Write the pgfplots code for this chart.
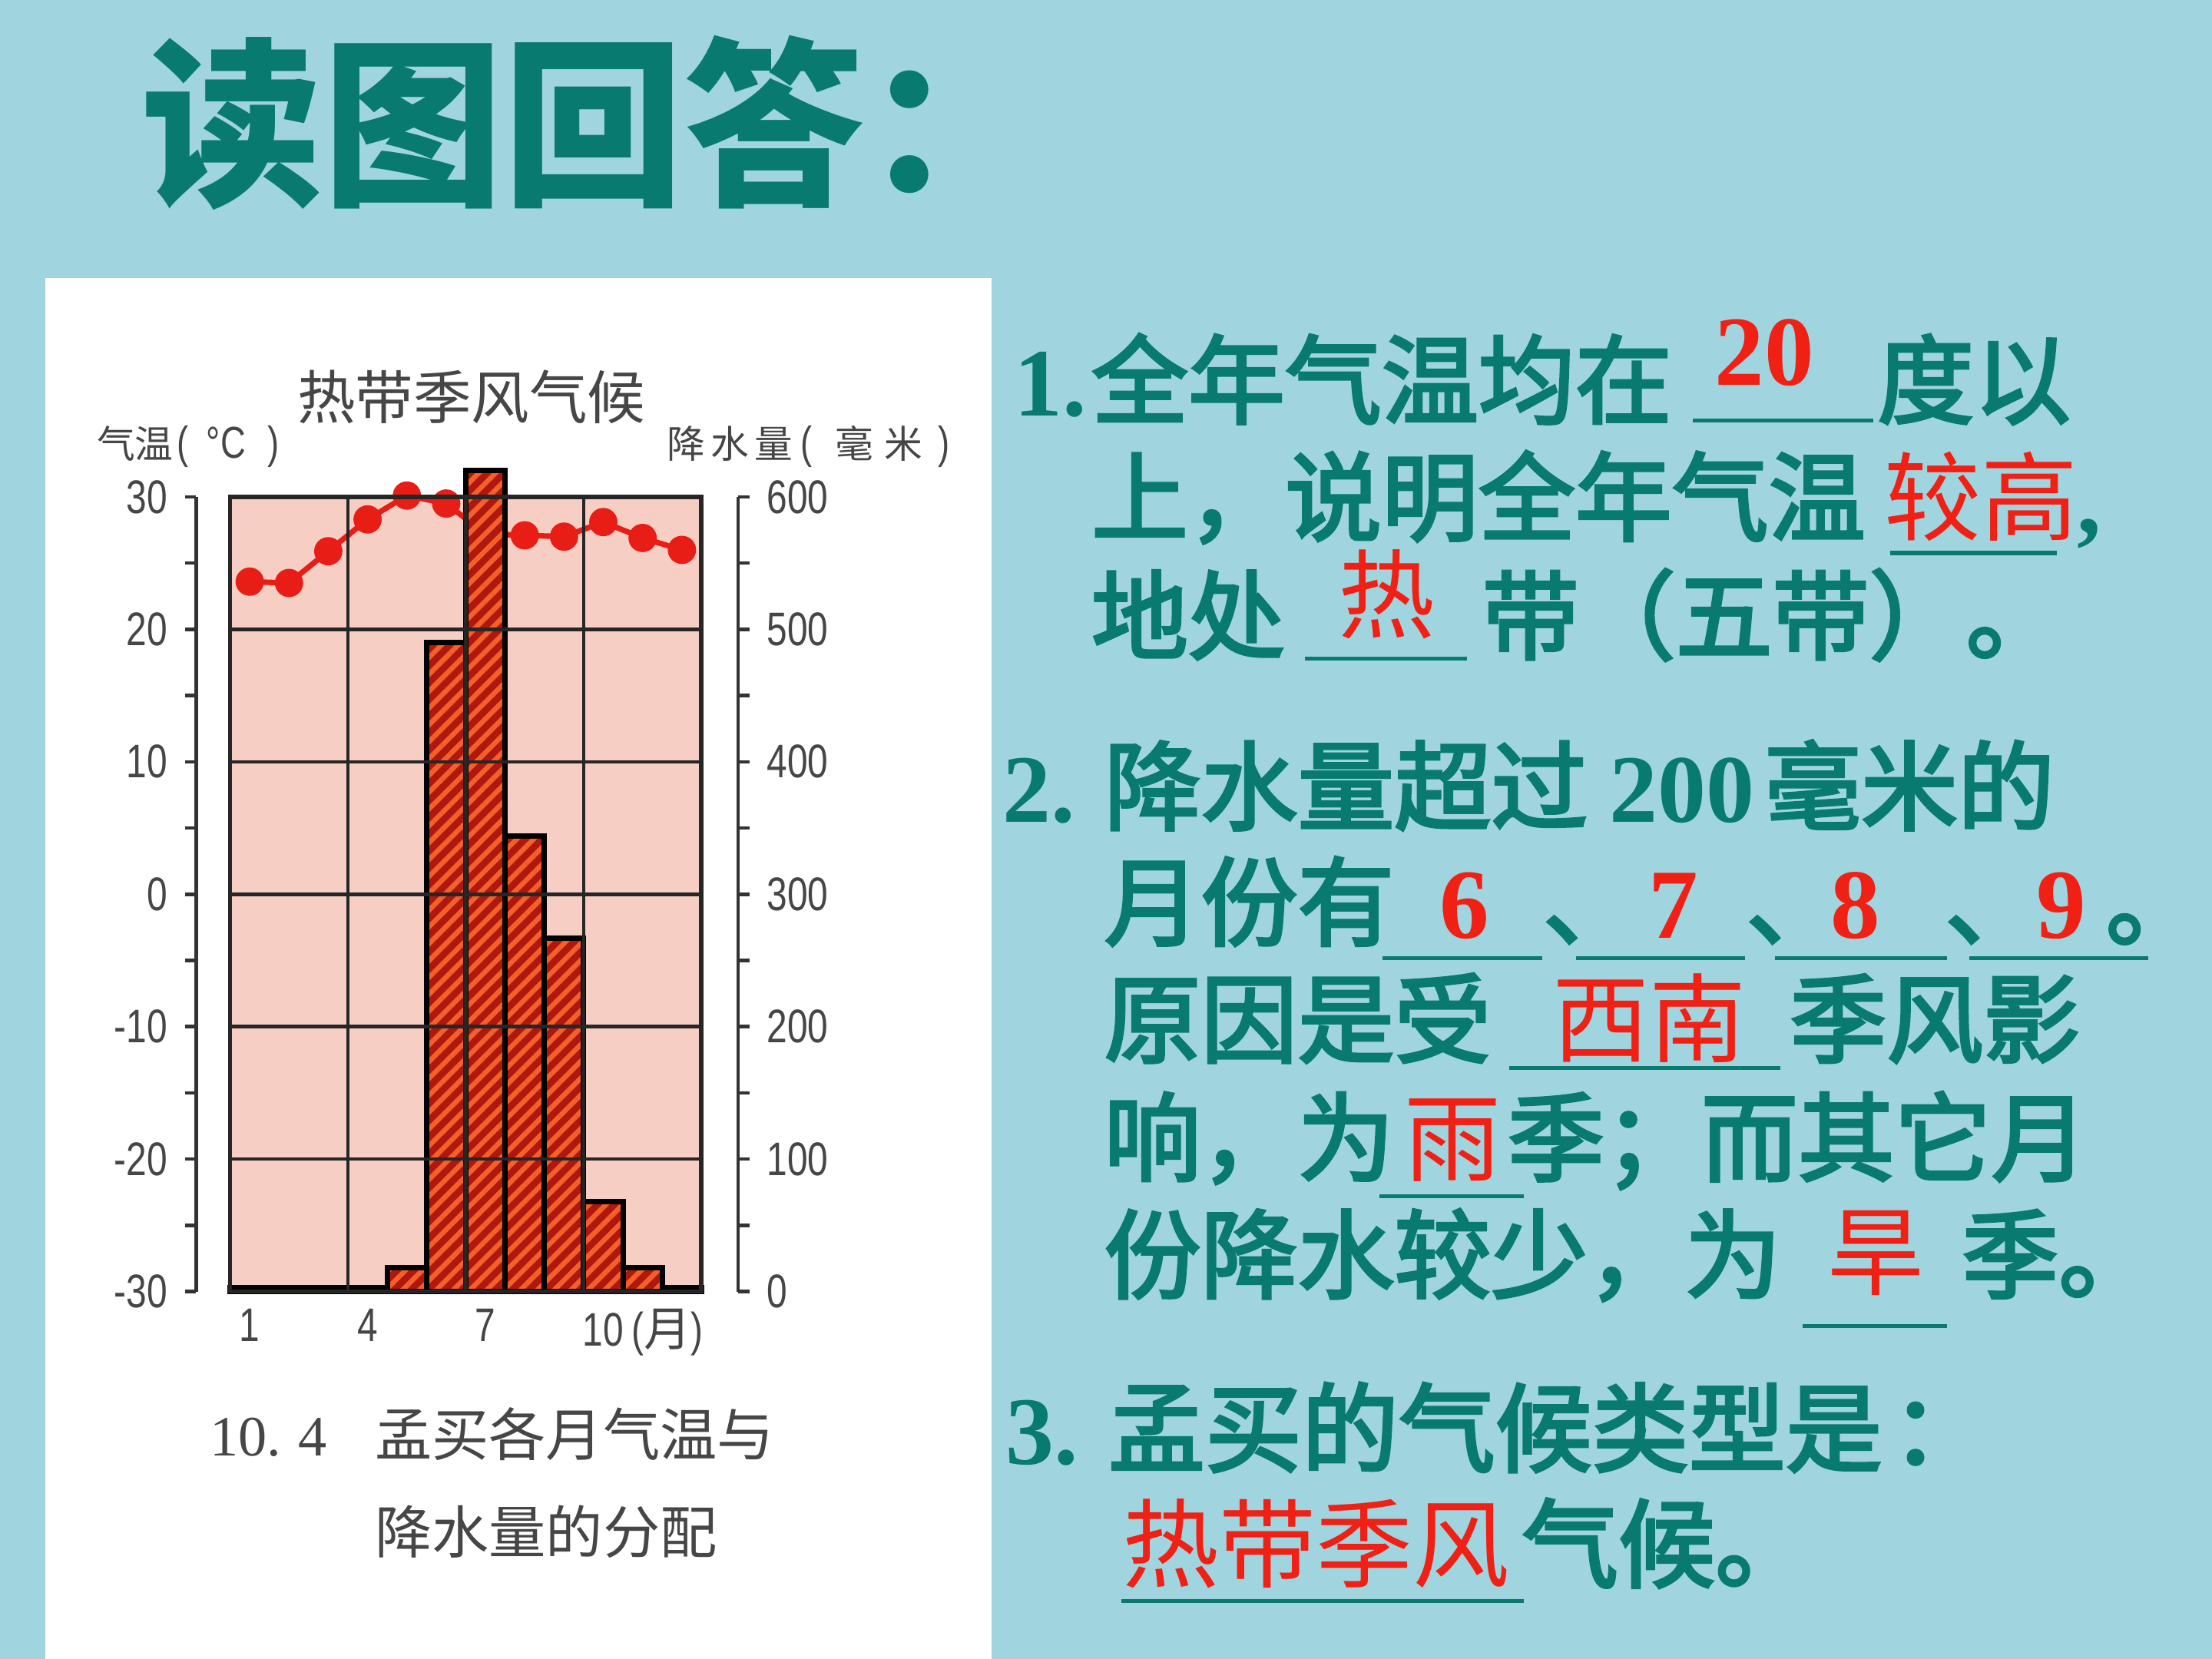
\documentclass[border=0pt]{standalone}
\usepackage{fontspec}
\usepackage{pgfplots}
\pgfplotsset{compat=1.18}
\usetikzlibrary{patterns.meta}
\setmainfont{Liberation Serif}
\newfontfamily\cjk{Noto Sans CJK SC}
\newfontfamily\cjkm[FakeBold=3]{Noto Sans CJK SC}
\newfontfamily\serifb{Liberation Serif}
\newfontfamily\tickf[FakeStretch=0.78]{Liberation Sans}

\definecolor{bgcyan}{RGB}{160,213,224}
\definecolor{teal1}{RGB}{8,122,112}
\definecolor{ansred}{RGB}{240,32,20}
\definecolor{pinkbg}{RGB}{247,206,196}
\definecolor{barred}{RGB}{175,24,14}
\definecolor{barstripe}{RGB}{245,95,40}
\definecolor{tline}{RGB}{232,30,22}
\definecolor{inkgray}{RGB}{70,70,70}

\newcommand{\bodyfs}{\fontsize{19.5pt}{20pt}\selectfont}
\newcommand{\tickfs}{\fontsize{9.5pt}{10pt}\selectfont}

\pgfplotstableread{
m t
1 23.6
2 23.5
3 25.9
4 28.3
5 30.1
6 29.5
7 27.2
8 27.1
9 27.0
10 28.1
11 26.9
12 26.0
}\temps

\pgfplotstableread{
m p
1 3
2 3
3 3
4 3
5 18
6 490
7 620
8 344
9 267
10 68
11 18
12 3
}\precip

\begin{document}
\begin{tikzpicture}
\begin{scope}[x=0.01cm,y=-0.01cm]
\path[use as bounding box] (0,0) rectangle (1568,1176);
\fill[bgcyan] (0,0) rectangle (1568,1176);
\fill[white] (32,197) rectangle (703,1176);

% title
\node[anchor=base west, inner sep=0, text=teal1, font=\fontsize{36.4pt}{37pt}\selectfont\cjk\bfseries] at (100,136) {读图回答：};

% question text
\tikzset{tq/.style={anchor=base west, inner sep=0, text=teal1, font=\bodyfs\cjkm},
         tn/.style={anchor=base west, inner sep=0, text=teal1, font=\bodyfs\serifb\bfseries},
         rq/.style={anchor=base west, inner sep=0, text=ansred, font=\bodyfs\cjk},
         rn/.style={anchor=base west, inner sep=0, text=ansred, font=\fontsize{20pt}{21pt}\selectfont\serifb\bfseries},
         ul/.style={teal1, line width=0.8pt}}
% line 1
\node[tn] at (718,295) {1.};
\node[tq] at (773,295) {全年气温均在};
\node[rn] at (1215,273) {20};
\draw[ul] (1200,298) -- (1328,298);
\node[tq] at (1330,295) {度以};
% line 2
\node[tq] at (773,378) {上，说明全年气温};
\node[rq] at (1335,378) {较高};
\node[tn] at (1472,378) {,};
\draw[ul] (1340,392) -- (1458,392);
% line 3
\node[tq] at (773,462) {地处};
\node[rq] at (948,447) {热};
\draw[ul] (925,467) -- (1040,467);
\node[tq] at (1050,462) {带（五带）。};
% line 4
\node[tn] at (710,583) {2.};
\node[tq] at (782,583) {降水量超过};
\node[tn] at (1140,583) {200};
\node[tq] at (1250,583) {毫米的};
% line 5
\node[tq] at (782,665) {月份有};
\node[rn] at (1020,665) {6};
\node[tq] at (1093,665) {、};
\node[rn] at (1168,665) {7};
\node[tq] at (1237,665) {、};
\node[rn] at (1297,665) {8};
\node[tq] at (1378,665) {、};
\node[rn] at (1443,665) {9};
\node[tq] at (1492,665) {。};
\draw[ul] (980,679) -- (1093,679);
\draw[ul] (1117,679) -- (1237,679);
\draw[ul] (1258,679) -- (1380,679);
\draw[ul] (1396,679) -- (1523,679);
% line 6
\node[tq] at (782,748) {原因是受};
\node[rq] at (1100,748) {西南};
\draw[ul] (1070,757) -- (1262,757);
\node[tq] at (1268,748) {季风影};
% line 7
\node[tq] at (782,832) {响，为};
\node[rq] at (995,832) {雨};
\draw[ul] (978,848) -- (1080,848);
\node[tq] at (1068,832) {季；而其它月};
% line 8
\node[tq] at (782,915) {份降水较少，为};
\node[rq] at (1295,913) {旱};
\draw[ul] (1278,940) -- (1380,940);
\node[tq] at (1390,915) {季。};
% line 9
\node[tn] at (712,1038) {3.};
\node[tq] at (785,1038) {孟买的气候类型是};
\node[tq] at (1340,1038) {：};
% line 10
\node[rq] at (795,1120) {热带季风};
\node[tq] at (1078,1120) {气候。};
\draw[ul] (795,1135) -- (1080,1135);

% chart texts
\node[anchor=base west, inner sep=0, text=inkgray, font=\fontsize{11.7pt}{12pt}\selectfont\cjk] at (210,297) {热带季风气候};
\node[anchor=base west, inner sep=0, text=inkgray, font=\fontsize{7.7pt}{8pt}\selectfont\cjk] at (68,325) {气温\hspace{0.1em}{\tickf\fontsize{9pt}{9pt}\selectfont(\hspace{0.4em}°C\hspace{0.5em})}};
\node[anchor=base west, inner sep=0, text=inkgray, font=\fontsize{7.7pt}{8pt}\selectfont\cjk] at (472,325) {降\hspace{0.15em}水\hspace{0.15em}量\hspace{0.2em}{\tickf\fontsize{9pt}{9pt}\selectfont(}\hspace{0.6em}毫\hspace{0.3em}米\hspace{0.4em}{\tickf\fontsize{9pt}{9pt}\selectfont)}};
\node[anchor=base west, inner sep=0, text=inkgray, font=\fontsize{11.5pt}{12pt}\selectfont\serifb] at (148,1032) {10.\hspace{0.3em}4};
\node[anchor=base west, inner sep=0, text=inkgray, font=\fontsize{11.5pt}{12pt}\selectfont\cjk] at (265,1032) {孟买各月气温与};
\node[anchor=base west, inner sep=0, text=inkgray, font=\fontsize{11.5pt}{12pt}\selectfont\cjk] at (265,1101) {降水量的分配};
\end{scope}

% temperature axis (background + line)
\begin{axis}[
  at={(1.63cm,-9.15cm)}, anchor=south west, scale only axis,
  width=3.34cm, height=5.63cm,
  xmin=0.5, xmax=12.5, ymin=-30, ymax=30,
  axis background/.style={fill=pinkbg},
  axis line style={draw=none},
  xtick={1,4,7,10}, xticklabels={1,4,7,10\rlap{\,({\cjk 月})}},
  ytick=\empty,
  major tick length=0pt,
  xticklabel style={font=\tickf\tickfs, text=inkgray},
  clip=false,
]
\addplot[tline, line width=1.1pt, mark=*, mark size=2.3pt, mark options={fill=tline, draw=tline}] table[x=m, y=t] {\temps};
\end{axis}

% precipitation axis (bars + grid on top)
\begin{axis}[
  at={(1.63cm,-9.15cm)}, anchor=south west, scale only axis,
  width=3.34cm, height=5.63cm,
  xmin=0.5, xmax=12.5, ymin=0, ymax=600,
  axis on top, clip=false,
  xtick={3.5,6.5,9.5}, ytick={100,200,300,400,500},
  xticklabels={}, yticklabels={},
  grid=major, major grid style={black!85, line width=0.7pt},
  major tick length=0pt,
  axis line style={black!85, line width=0.9pt},
]
\addplot[ybar, bar width=1, draw=black, line width=1.1pt,
  preaction={fill=barred},
  pattern={Lines[angle=45,distance=2.4pt,line width=1pt]}, pattern color=barstripe]
  table[x=m, y=p] {\precip};
\end{axis}

% left temperature scale
\begin{axis}[
  at={(1.39cm,-9.15cm)}, anchor=south west, scale only axis,
  width=0.5cm, height=5.63cm,
  xmin=0, xmax=1, ymin=-30, ymax=30,
  axis y line*=left, axis x line=none,
  ytick={-30,-20,-10,0,10,20,30},
  yticklabels={-30,-20,-10,0,10,20,30},
  minor ytick={-25,-15,-5,5,15,25},
  tick align=outside, major tick length=0.08cm, minor tick length=0.08cm,
  y axis line style={black!80, line width=0.7pt},
  every tick/.style={black!80, line width=0.7pt},
  yticklabel style={font=\tickf\tickfs, text=inkgray},
]
\addplot[draw=none] coordinates {(0,0)};
\end{axis}

% right precipitation scale
\begin{axis}[
  at={(5.23cm,-9.15cm)}, anchor=south east, scale only axis,
  width=0.5cm, height=5.63cm,
  xmin=0, xmax=1, ymin=0, ymax=600,
  axis y line*=right, axis x line=none,
  ytick={0,100,200,300,400,500,600},
  minor ytick={50,150,250,350,450,550},
  tick align=outside, major tick length=0.08cm, minor tick length=0.08cm,
  y axis line style={black!80, line width=0.7pt},
  every tick/.style={black!80, line width=0.7pt},
  /pgf/number format/assume math mode=true,
  yticklabel style={font=\tickf\tickfs, text=inkgray},
]
\addplot[draw=none] coordinates {(0,0)};
\end{axis}
\end{tikzpicture}
\end{document}
